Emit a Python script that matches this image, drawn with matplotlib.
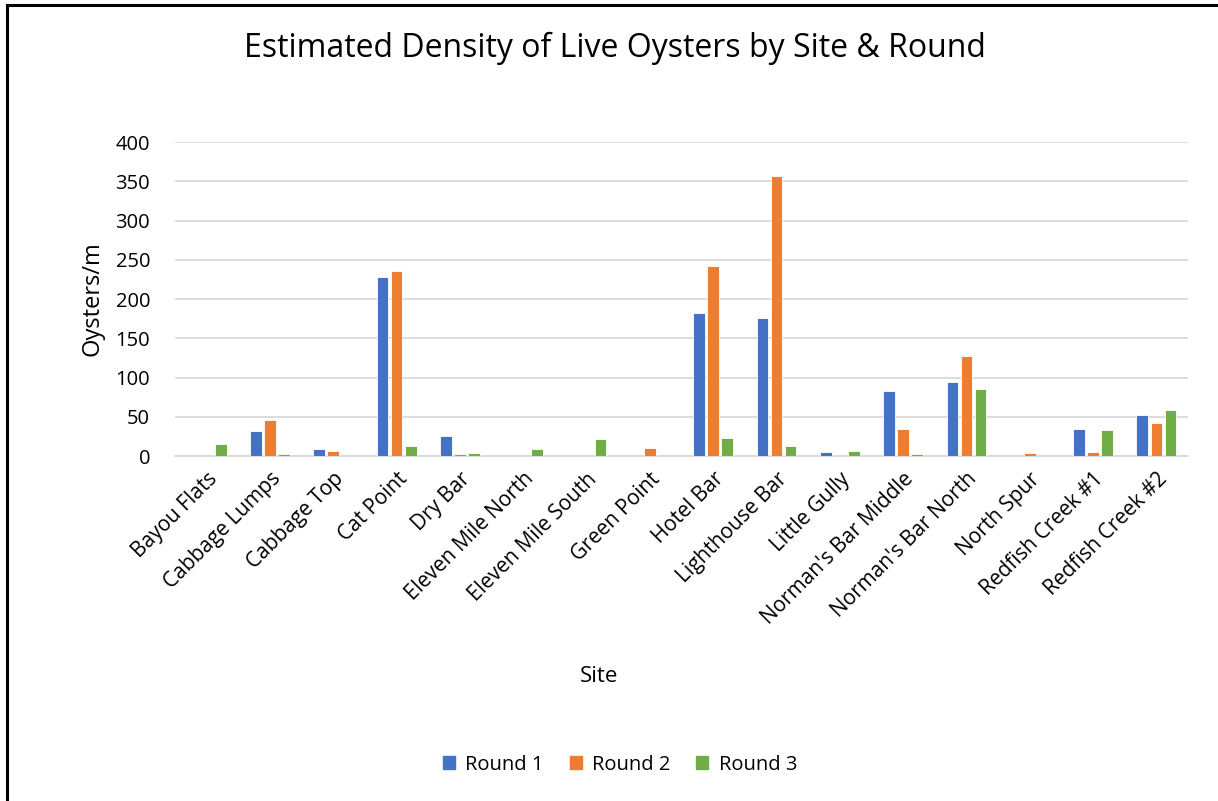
import numpy as np
import matplotlib.pyplot as plt
from matplotlib.lines import Line2D

plt.rcParams['font.family'] = ['Open Sans', 'DejaVu Sans']

sites = ["Bayou Flats", "Cabbage Lumps", "Cabbage Top", "Cat Point", "Dry Bar",
         "Eleven Mile North", "Eleven Mile South", "Green Point", "Hotel Bar",
         "Lighthouse Bar", "Little Gully", "Norman's Bar Middle", "Norman's Bar North",
         "North Spur", "Redfish Creek #1", "Redfish Creek #2"]
round1 = [0, 31.5, 8.5, 228, 25, 0, 0, 0.5, 182, 176, 5, 83, 94, 0.3, 34, 52.6]
round2 = [0, 46, 6, 236, 3, 0, 0, 9.8, 242, 357, 0.5, 35, 127, 3.4, 5.5, 42.5]
round3 = [15.3, 2.5, 0.5, 13, 3.5, 9, 21.7, 0, 22.5, 12.4, 7, 2.5, 85, 0, 33, 58.6]
series = [("Round 1", round1, "#4472C4"),
          ("Round 2", round2, "#ED7D31"),
          ("Round 3", round3, "#70AD47")]

fig = plt.figure(figsize=(12.18, 8.01), dpi=100)
ax = fig.add_axes([0.1437, 0.4307, 0.8317, 0.392])

x = np.arange(len(sites))
w = 0.185
for i, (name, vals, col) in enumerate(series):
    ax.bar(x + (i - 1) * 0.222, vals, w, color=col, label=name,
           edgecolor='white', linewidth=0.6, zorder=3)

ax.set_xlim(-0.5, len(sites) - 0.5)
ax.set_ylim(0, 400)
ax.set_yticks(range(0, 401, 50))
ax.yaxis.grid(True, color='#d9d9d9', linewidth=1.3, zorder=0)
for s in ['top', 'right', 'left']:
    ax.spines[s].set_visible(False)
ax.spines['bottom'].set_color('#d9d9d9')
ax.spines['bottom'].set_linewidth(1.3)
ax.tick_params(axis='y', length=0, labelsize=14.5, pad=18)
ax.tick_params(axis='x', length=0, labelsize=15, pad=9)
ax.set_xticks(x)
ax.set_xticklabels(sites, rotation=45, ha='right', rotation_mode='anchor')
ax.set_ylabel("Oysters/m", fontsize=17, labelpad=8)

fig.text(0.505, 0.94, "Estimated Density of Live Oysters by Site & Round",
         ha='center', va='center', fontsize=23)
fig.text(0.492, 0.156, "Site", ha='center', va='center', fontsize=16)

handles = [plt.Rectangle((0, 0), 1, 1, color=c) for _, _, c in series]
fig.legend(handles, [n for n, _, _ in series], loc='center', bbox_to_anchor=(0.509, 0.045),
           ncol=3, frameon=False, fontsize=14.5, handlelength=0.6, handleheight=0.6,
           columnspacing=1.3, handletextpad=0.5)

# chart border on the left and top edges
fig.add_artist(Line2D([0.0055, 0.0055], [0, 0.994], color='black', lw=2.2))
fig.add_artist(Line2D([0.0055, 1], [0.994, 0.994], color='black', lw=2.2))

fig.savefig("out.png", dpi=100, facecolor='white')
